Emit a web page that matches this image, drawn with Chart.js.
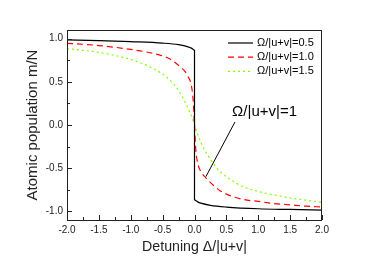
<!DOCTYPE html>
<html>
<head>
<meta charset="utf-8">
<script src="https://cdn.jsdelivr.net/npm/chart.js@4.4.1/dist/chart.umd.min.js"></script>
<style>
  html, body { margin: 0; padding: 0; background: #fff; }
  canvas { display: block; }
</style>
</head>
<body>
<canvas id="chart" width="374" height="264"></canvas>
<script>
// detuning values (shared by the two smooth curves)
const detuning = [-2, -1.75, -1.5, -1.25, -1, -0.75, -0.5, -0.4, -0.3, -0.2, -0.15, -0.1, -0.05, -0.02, 0,
  0.02, 0.05, 0.1, 0.15, 0.2, 0.3, 0.4, 0.5, 0.75, 1, 1.25, 1.5, 1.75, 2];
const pop10 = [0.945, 0.935, 0.92, 0.9, 0.875, 0.845, 0.8, 0.77, 0.72, 0.66, 0.62, 0.56, 0.46, 0.28, 0,
  -0.28, -0.44, -0.54, -0.59, -0.63, -0.7, -0.76, -0.8, -0.86, -0.885, -0.91, -0.925, -0.94, -0.95];
const pop15 = [0.885, 0.865, 0.84, 0.805, 0.76, 0.69, 0.59, 0.53, 0.45, 0.34, 0.27, 0.19, 0.11, 0.05, 0.01,
  -0.04, -0.11, -0.2, -0.28, -0.34, -0.45, -0.54, -0.6, -0.71, -0.77, -0.81, -0.845, -0.87, -0.895];

// Ω/|u+v| = 0.5 jumps at zero, so it has its own x list
const detuning05 = [-2, -1.5, -1, -0.5, -0.25, -0.1, -0.05, -0.02, 0, 0, 0.02, 0.05, 0.1, 0.25, 0.5, 1, 1.5, 2];
const pop05 = [0.985, 0.978, 0.965, 0.948, 0.93, 0.905, 0.89, 0.875, 0.865, -0.865, -0.875, -0.89, -0.905, -0.93, -0.95, -0.97, -0.978, -0.985];

const labels = ['Ω/|u+v|=0.5', 'Ω/|u+v|=1.0', 'Ω/|u+v|=1.5'];
const xTicks = [-2, -1.5, -1, -0.5, 0, 0.5, 1, 1.5, 2];
const xMinor = [-1.75, -1.25, -0.75, -0.25, 0.25, 0.75, 1.25, 1.75];
const yTicks = [-1, -0.5, 0, 0.5, 1];
const yMinor = [-0.75, -0.25, 0.25, 0.75];

// annotation: text anchor and pointer line, in data units
const noteText = 'Ω/|u+v|=1';
const notePos = [0.59, 0.11];
const noteLine = [[0.635, 0.035], [0.18, -0.597]];

const FONT = '"Liberation Sans", Arial, sans-serif';
const styles = [
  { color: '#000000', dash: [] },
  { color: '#ff0000', dash: [6, 4] },
  { color: '#80ff00', dash: [2, 3] }
];

const toPts = (xs, ys) => xs.map((x, i) => ({ x, y: ys[i] }));

const frameAndTicks = {
  id: 'frameAndTicks',
  afterDraw(chart) {
    const { ctx, chartArea: a, scales: { x, y } } = chart;
    ctx.save();
    ctx.strokeStyle = '#222';
    ctx.lineWidth = 1;
    ctx.strokeRect(a.left + 0.5, a.top + 0.5, a.right - a.left - 1, a.bottom - a.top);
    ctx.beginPath();
    xTicks.forEach(v => { const p = Math.round(x.getPixelForValue(v)) + 0.5; ctx.moveTo(p, a.bottom); ctx.lineTo(p, a.bottom - 5); });
    xMinor.forEach(v => { const p = Math.round(x.getPixelForValue(v)) + 0.5; ctx.moveTo(p, a.bottom); ctx.lineTo(p, a.bottom - 3); });
    yTicks.forEach(v => { const p = Math.round(y.getPixelForValue(v)) + 0.5; ctx.moveTo(a.left, p); ctx.lineTo(a.left + 5, p); });
    yMinor.forEach(v => { const p = Math.round(y.getPixelForValue(v)) + 0.5; ctx.moveTo(a.left, p); ctx.lineTo(a.left + 3, p); });
    ctx.stroke();

    // legend
    ctx.font = '11px ' + FONT;
    ctx.textBaseline = 'middle';
    labels.forEach((t, i) => {
      const yy = a.top + 13 + i * 14.2;
      ctx.beginPath();
      ctx.strokeStyle = styles[i].color;
      ctx.lineWidth = 1.2;
      ctx.setLineDash(styles[i].dash);
      ctx.moveTo(a.right - 94, yy);
      ctx.lineTo(a.right - 69, yy);
      ctx.stroke();
      ctx.setLineDash([]);
      ctx.fillStyle = '#000';
      ctx.fillText(t, a.right - 65, yy);
    });

    // annotation
    ctx.beginPath();
    ctx.strokeStyle = '#000';
    ctx.lineWidth = 1;
    ctx.moveTo(x.getPixelForValue(noteLine[0][0]), y.getPixelForValue(noteLine[0][1]));
    ctx.lineTo(x.getPixelForValue(noteLine[1][0]), y.getPixelForValue(noteLine[1][1]));
    ctx.stroke();
    ctx.font = '15px ' + FONT;
    ctx.textBaseline = 'alphabetic';
    ctx.fillText(noteText, x.getPixelForValue(notePos[0]), y.getPixelForValue(notePos[1]));
    ctx.restore();
  }
};

new Chart(document.getElementById('chart'), {
  type: 'line',
  data: {
    datasets: [
      { label: labels[0], data: toPts(detuning05, pop05) },
      { label: labels[1], data: toPts(detuning, pop10) },
      { label: labels[2], data: toPts(detuning, pop15) }
    ].map((d, i) => ({ ...d, borderColor: styles[i].color, borderDash: styles[i].dash, borderWidth: 1.2,
      pointRadius: 0, tension: 0.35, cubicInterpolationMode: 'monotone', fill: false }))
  },
  options: {
    responsive: false,
    animation: false,
    layout: { padding: { top: 30, right: 52, left: 0, bottom: 0 } },
    plugins: { legend: { display: false }, tooltip: { enabled: false } },
    scales: {
      x: {
        type: 'linear', min: -2, max: 2,
        grid: { display: false, drawTicks: false, tickLength: 0 }, border: { display: false },
        afterBuildTicks: s => { s.ticks = xTicks.map(v => ({ value: v })); },
        afterFit: s => { s.height = 44; },
        ticks: { padding: 4, color: '#222', font: { family: FONT, size: 10 }, callback: v => v.toFixed(1), maxRotation: 0 },
        title: { display: true, text: 'Detuning Δ/|u+v|', color: '#222', font: { family: FONT, size: 14.2 }, padding: { top: 0, bottom: 8 } }
      },
      y: {
        min: -1.1, max: 1.1,
        grid: { display: false, drawTicks: false, tickLength: 0 }, border: { display: false },
        afterBuildTicks: s => { s.ticks = yTicks.map(v => ({ value: v })); },
        afterFit: s => { s.width = 67; },
        ticks: { padding: 4, color: '#222', font: { family: FONT, size: 10 }, callback: v => v.toFixed(1) },
        title: { display: true, text: 'Atomic population m/N', color: '#222', font: { family: FONT, size: 15 }, padding: { top: 24, bottom: 0 } }
      }
    }
  },
  plugins: [frameAndTicks]
});
</script>
</body>
</html>
